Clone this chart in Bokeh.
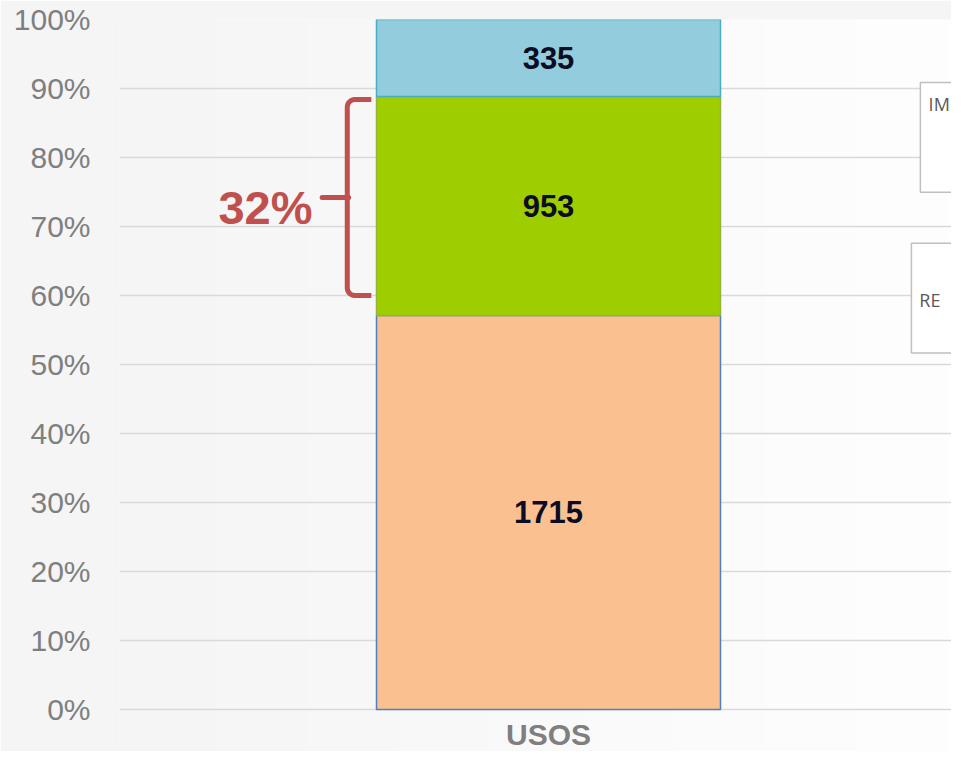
import numpy as np
from bokeh.plotting import figure
from bokeh.models import Range1d, FixedTicker, NumeralTickFormatter, ColumnDataSource
from bokeh.core.properties import value
from bokeh.embed import file_html
from bokeh.resources import INLINE

# ---- data ----
categories = ["USOS"]
values_bottom = [1715]
values_middle = [953]
values_top = [335]
seg_fill = ["#FAC090", "#9FCE00", "#93CDDD"]
seg_line = ["#4F81BD", "#93B43A", "#4BACC6"]
y_ticks = [0.0, 0.1, 0.2, 0.3, 0.4, 0.5, 0.6, 0.7, 0.8, 0.9, 1.0]
box_texts = ["IM", "RE"]

# ---- derived ----
seg_vals = [values_bottom[0], values_middle[0], values_top[0]]
total = float(sum(seg_vals))
fracs = [v / total for v in seg_vals]
bottoms = list(np.cumsum([0.0] + fracs[:-1]))
tops = list(np.cumsum(fracs))
mids = [(b + t) / 2 for b, t in zip(bottoms, tops)]
xpos = [0.0] * 3

src = ColumnDataSource(dict(x=xpos, bottom=bottoms, top=tops, mid=mids,
                            fill=seg_fill, line=seg_line,
                            label=[str(v) for v in seg_vals]))

X0, X1 = -1.2471, 1.1715
Y0, Y1 = -0.0609, 1.0

p = figure(width=951, height=751, x_range=Range1d(X0, X1), y_range=Range1d(Y0, Y1),
           output_backend="svg", toolbar_location=None, x_axis_location=None,
           min_border_left=119, min_border_right=0, min_border_top=19, min_border_bottom=0)
p.outline_line_color = None
p.border_fill_color = "#f5f5f5"
p.background_fill_color = "#f8f8f8"

# subtle horizontal background gradient
n = 200
t = np.linspace(0, 1, n)
g = (245 + 9 * t).astype(np.uint32)
img = np.empty((1, n), dtype=np.uint32)
view = img.view(dtype=np.uint8).reshape((1, n, 4))
view[0, :, 0] = g
view[0, :, 1] = g
view[0, :, 2] = g
view[0, :, 3] = 255
p.image_rgba(image=[img], x=X0, y=Y0, dw=X1 - X0, dh=Y1 - Y0, level="image")

# axes / grid
p.yaxis.ticker = FixedTicker(ticks=y_ticks)
p.yaxis.formatter = NumeralTickFormatter(format="0%")
p.yaxis.axis_line_color = None
p.yaxis.major_tick_line_color = None
p.yaxis.minor_tick_line_color = None
p.yaxis.major_tick_out = 0
p.yaxis.major_tick_in = 0
p.yaxis.major_label_standoff = 29
p.yaxis.major_label_text_font = "Liberation Sans"
p.yaxis.major_label_text_font_size = "30px"
p.yaxis.major_label_text_color = "#7f7f7f"
p.ygrid.ticker = FixedTicker(ticks=y_ticks)
p.ygrid.grid_line_color = "#d9d9d9"
p.ygrid.grid_line_width = 1.5
p.xgrid.visible = False

# stacked 100% bar
p.vbar(x="x", width=1.0, bottom="bottom", top="top", fill_color="fill",
       line_color="line", line_width=1.5, source=src)
p.text(x="x", y="mid", text="label", source=src, text_align="center",
       text_baseline="middle", text_font=value("Liberation Sans"),
       text_font_style="bold", text_font_size="31px", text_color="#0c0c24")

# category label
p.text(x=[0.0], y=[-0.036], text=categories, text_align="center", text_baseline="middle",
       text_font=value("Liberation Sans"), text_font_style="bold",
       text_font_size="30px", text_color="#7f7f7f")

# brace annotation around middle segment
brace_top, brace_bot = 0.884, 0.600
brace_mid = (brace_top + brace_bot) / 2
bx, hook_x, tip_x = -0.585, -0.515, -0.658
rx, ry = 0.022, 0.011
xs = [hook_x]
ys = [brace_top]
for a in np.linspace(np.pi / 2, np.pi, 8):
    xs.append(bx + rx + rx * np.cos(a))
    ys.append(brace_top - ry + ry * np.sin(a))
for a in np.linspace(np.pi, 1.5 * np.pi, 8):
    xs.append(bx + rx + rx * np.cos(a))
    ys.append(brace_bot + ry + ry * np.sin(a))
xs.append(hook_x)
ys.append(brace_bot)
brace_color = "#C0504D"
p.line(xs, ys, line_color=brace_color, line_width=5, line_join="round", line_cap="butt")
p.line([tip_x, bx + 0.004], [brace_mid, brace_mid], line_color=brace_color,
       line_width=5, line_cap="round")
pct_text = f"{round(100 * values_middle[0] / total)}%"
p.text(x=[-0.686], y=[0.728], text=[pct_text], text_align="right",
       text_baseline="middle", text_font=value("Liberation Sans"),
       text_font_style="bold", text_font_size="47px", text_color=brace_color)

# partially visible text boxes on the right edge
p.quad(left=[1.081, 1.055], right=[2.0, 2.0], top=[0.9088, 0.6758],
       bottom=[0.7496, 0.5166], fill_color="white", line_color="#bfbfbf", line_width=1.5)
p.text(x=[1.105, 1.078], y=[0.878, 0.593], text=box_texts, text_align="left",
       text_baseline="middle", text_font=value("Open Sans"),
       text_font_size="18px", text_color="#595959")

open("out.html", "w").write(file_html(p, INLINE))
